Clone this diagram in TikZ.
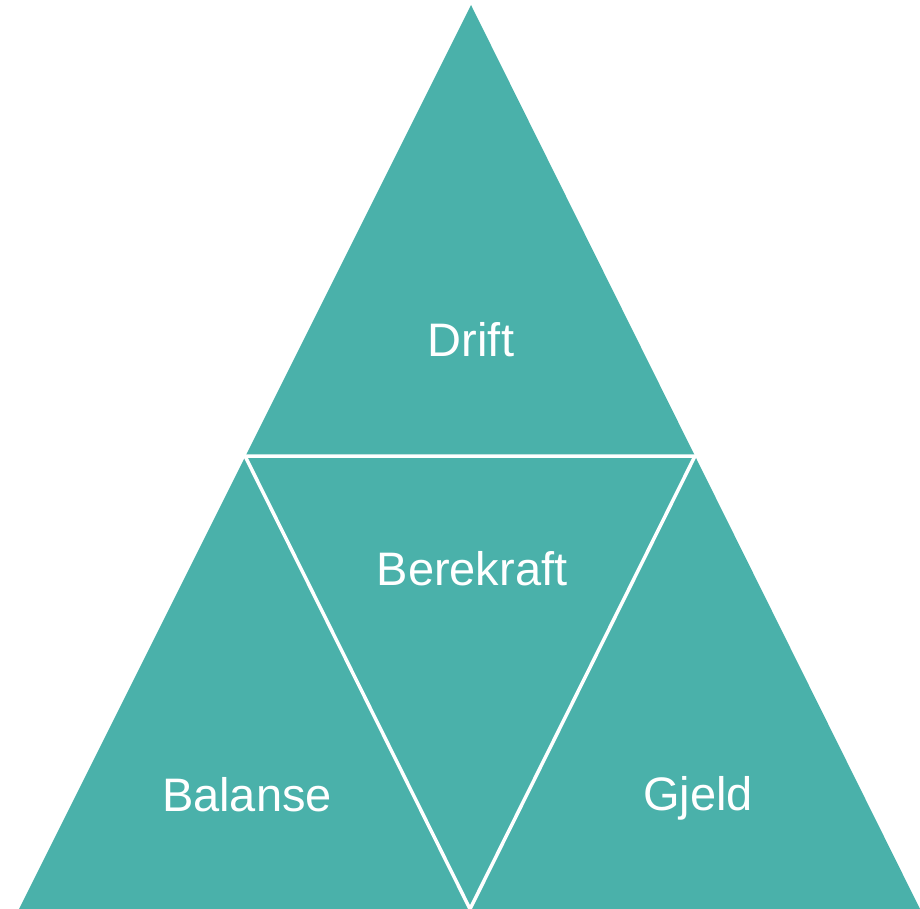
\documentclass[tikz,border=0pt]{standalone}
\usepackage{fontspec}
\setmainfont{Liberation Sans}
\definecolor{teal}{RGB}{74,177,170}
\tikzset{
  lbl/.style={anchor=base,text=white,font=\fontsize{47}{51}\selectfont,inner sep=0pt},
  sep/.style={draw=white,line width=3.5pt,line cap=round,line join=round}
}
\begin{document}
\begin{tikzpicture}[x=1pt,y=-1pt]
\useasboundingbox (0,0) rectangle (920,909);
\coordinate (top) at (471,5);
\coordinate (bl) at (19,909);
\coordinate (br) at (920,909);
\coordinate (ml) at (245,456);
\coordinate (mr) at (695,456);
\coordinate (bm) at (470,909);
\fill[teal] (top) -- (br) -- (bl) -- cycle;
\draw[sep] (ml) -- (mr) -- (bm) -- cycle;
\node[lbl] (drift) at (471,356) {Drift};
\node[lbl] (berekraft) at (472,585) {Berekraft};
\node[lbl] (balanse) at (247,811) {Balanse};
\node[lbl] (gjeld) at (698,810) {Gjeld};
\end{tikzpicture}
\end{document}
